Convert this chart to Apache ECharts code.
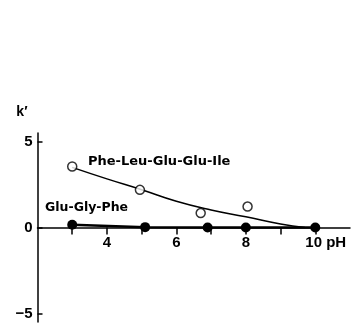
<!DOCTYPE html>
<html>
<head>
<meta charset="utf-8">
<script src="https://cdn.jsdelivr.net/npm/echarts@6/dist/echarts.min.js"></script>
<style>
  html, body { margin: 0; padding: 0; background: #fff; }
  #chart { width: 356px; height: 324px; }
</style>
</head>
<body>
<div id="chart"></div>
<script>
// 数据：pH 与 k′
const pheLeuPoints = [[3.0, 3.55], [4.95, 2.19], [6.7, 0.84], [8.05, 1.22]]
const pheLeuCurve = [[3.0, 3.5], [4.0, 2.83], [5.0, 2.2], [6.0, 1.53], [7.0, 1.02], [8.0, 0.62], [9.0, 0.2], [9.7, 0]]
const gluGlyPoints = [[3.0, 0.16], [5.1, 0.02], [6.9, 0], [8.0, 0], [10.0, 0]]

const xTicks = [3, 4, 5, 6, 7, 8, 9, 10]
const xLabels = [4, 6, 8, 10]
const yTicks = [-5, 0, 5]

const labelFont = 'Liberation Sans'

const chart = echarts.init(document.getElementById('chart'), null, { renderer: 'canvas' })

const gridTop = 133
const gridBottom = 2
const yMin = -5.5
const yMax = 5.5
// x 轴放在 k′ = 0 处（v6 的 onZero 不会带上刻度标签）
const plotHeight = 324 - gridTop - gridBottom
const zeroOffset = -plotHeight * (0 - yMin) / (yMax - yMin)

const option = {
  backgroundColor: '#fff',
  animation: false,
  grid: { left: 37.5, right: 6, top: gridTop, bottom: gridBottom, containLabel: false, outerBoundsMode: 'none' },
  xAxis: {
    type: 'value',
    min: 2,
    max: 11,
    position: 'bottom',
    offset: zeroOffset,
    axisLine: { onZero: false, lineStyle: { color: '#000', width: 1.5 } },
    axisTick: { length: 7, customValues: xTicks, lineStyle: { color: '#000', width: 1.5 } },
    axisLabel: {
      customValues: xLabels,
      margin: 8,
      color: '#000',
      fontFamily: labelFont,
      fontWeight: 'bold',
      fontSize: 15,
      formatter: (v) => (v === 10 ? '{s|}10 pH' : String(v)),
      rich: { s: { width: 21 } },
    },
    splitLine: { show: false },
  },
  yAxis: {
    type: 'value',
    min: yMin,
    max: yMax,
    name: 'k′',
    nameLocation: 'end',
    nameGap: 14,
    nameTextStyle: {
      color: '#000',
      fontFamily: labelFont,
      fontWeight: 'bold',
      fontSize: 14,
      align: 'right',
      padding: [0, 10, 0, 0],
    },
    axisLine: { onZero: false, lineStyle: { color: '#000', width: 1.5 } },
    axisTick: { inside: true, length: 5, customValues: yTicks, lineStyle: { color: '#000', width: 1.5 } },
    axisLabel: {
      customValues: yTicks,
      margin: 5,
      color: '#000',
      fontFamily: labelFont,
      fontWeight: 'bold',
      fontSize: 15,
      formatter: (v) => (v < 0 ? '−' + Math.abs(v) : String(v)),
    },
    splitLine: { show: false },
  },
  graphic: [
    {
      type: 'text',
      left: 88,
      top: 155,
      style: { text: 'Phe-Leu-Glu-Glu-Ile', fill: '#000', font: 'bold 13px "DejaVu Sans"' },
    },
    {
      type: 'text',
      left: 45,
      top: 201,
      style: { text: 'Glu-Gly-Phe', fill: '#000', font: 'bold 12.5px "DejaVu Sans"' },
    },
  ],
  series: [
    {
      name: 'fit',
      type: 'line',
      data: pheLeuCurve,
      smooth: true,
      showSymbol: false,
      lineStyle: { color: '#000', width: 1.5 },
      z: 2,
    },
    {
      name: 'Phe-Leu-Glu-Glu-Ile',
      type: 'scatter',
      data: pheLeuPoints,
      symbol: 'circle',
      symbolSize: 9,
      itemStyle: { color: '#fff', borderColor: '#000', borderWidth: 1.5 },
      z: 3,
    },
    {
      name: 'Glu-Gly-Phe',
      type: 'line',
      data: gluGlyPoints,
      symbol: 'circle',
      symbolSize: 10,
      showAllSymbol: true,
      itemStyle: { color: '#000' },
      lineStyle: { color: '#000', width: 2.5 },
      z: 4,
    },
  ],
}

chart.setOption(option)
</script>
</body>
</html>
